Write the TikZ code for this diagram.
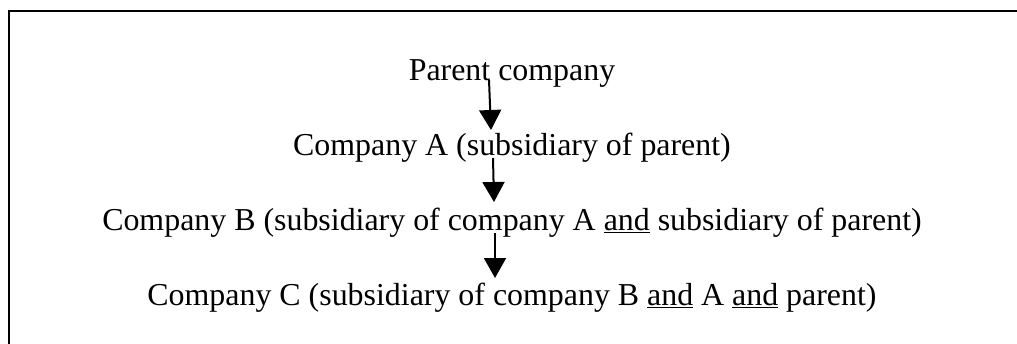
\documentclass[tikz,border=0pt]{standalone}
\usepackage{fontspec}
\setmainfont{Liberation Serif}
\usetikzlibrary{arrows.meta,positioning}

\begin{document}
\begin{tikzpicture}[->,>={Triangle[width=22pt,length=20pt]},line width=2pt,
    x=1pt,y=1pt,node distance=75pt,
    every node/.style={inner sep=0pt,font=\fontsize{31.9}{38}\selectfont}]
  \useasboundingbox (0,0) rectangle (1017,-343);
  \clip (0,0) rectangle (1017,-343);
  \draw[-,line width=2.5pt] (9,-11) rectangle (1040,-380);

  \node[anchor=base] (par) at (512,-80) {Parent company};
  \node (compa) [below=of par.base,anchor=base] {Company A (subsidiary of parent)};
  \node (compb) [below=of compa.base,anchor=base] {Company B (subsidiary of company A \underline{and} subsidiary of parent)};
  \node (compc) [below=of compb.base,anchor=base] {Company C (subsidiary of company B \underline{and} A \underline{and} parent)};

  \draw ([xshift=-23pt]par.base) -- ([xshift=-21pt,yshift=25pt]compa.base);
  \draw ([xshift=-19pt,yshift=-3pt]compa.base) -- ([xshift=-18pt,yshift=28pt]compb.base);
  \draw ([xshift=-17pt,yshift=-3pt]compb.base) -- ([xshift=-17pt,yshift=27pt]compc.base);
\end{tikzpicture}
\end{document}
